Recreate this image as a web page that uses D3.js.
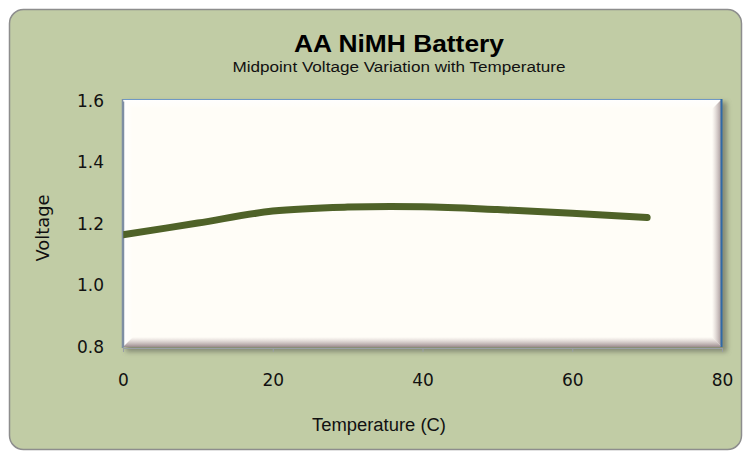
<!DOCTYPE html>
<html>
<head>
<meta charset="utf-8">
<script src="https://cdn.jsdelivr.net/npm/d3@7"></script>
<style>
  body { margin: 0; background: #fff; }
  svg { display: block; }
</style>
</head>
<body>
<svg id="chart"></svg>
<script>
var width = 746,
height = 453;

// data
var temps = [0, 10, 20, 30, 40, 50, 60, 70];
var volts = [1.165, 1.203, 1.242, 1.255, 1.256, 1.247, 1.235, 1.221];
var xTicks = [0, 20, 40, 60, 80];
var yTicks = [0.8, 1.0, 1.2, 1.4, 1.6];

var chartTitle = "AA NiMH Battery";
var chartSubtitle = "Midpoint Voltage Variation with Temperature";
var xTitle = "Temperature (C)";
var yTitle = "Voltage";

var plot = {left: 123, right: 722, top: 99, bottom: 347};

var svg = d3.select("svg#chart")
  .attr("width", width)
  .attr("height", height);

var defs = svg.append("defs");

var blur = defs.append("filter").attr("id", "shadow")
  .attr("x", "-10%").attr("y", "-10%").attr("width", "120%").attr("height", "120%");
blur.append("feGaussianBlur").attr("stdDeviation", 2.5);

// bevel gradients
function grad(id, x2, y2, stops) {
  var g = defs.append("linearGradient").attr("id", id)
    .attr("x1", 0).attr("y1", 0).attr("x2", x2).attr("y2", y2);
  stops.forEach(function(s) {
    g.append("stop").attr("offset", s[0]).attr("stop-color", s[1]).attr("stop-opacity", s[2]);
  });
}
grad("bevelRight", 1, 0, [[0, "#c4b4b4", 0], [1, "#9a8a8c", 1]]);
grad("bevelBottom", 0, 1, [[0, "#c4b4b4", 0], [1, "#9a8a8c", 1]]);
grad("bevelTop", 0, 1, [[0, "#ffffff", 1], [1, "#ffffff", 0]]);
grad("bevelLeft", 1, 0, [[0, "#ffffff", 1], [1, "#ffffff", 0]]);

// outer chart area
svg.append("rect")
  .attr("x", 9.5).attr("y", 9.5)
  .attr("width", 732).attr("height", 440)
  .attr("rx", 14).attr("ry", 14)
  .attr("fill", "#c1cca5")
  .attr("stroke", "#8d8d8d")
  .attr("stroke-width", 1.5);

var pw = plot.right - plot.left,
ph = plot.bottom - plot.top;
var b = 10; // bevel size

// plot area shadow
svg.append("rect")
  .attr("x", plot.left + 3).attr("y", plot.top + 3)
  .attr("width", pw + 2).attr("height", ph + 2)
  .attr("fill", "#6d7160").attr("opacity", 0.7)
  .attr("filter", "url(#shadow)");

var pg = svg.append("g").attr("transform", translate(plot.left, plot.top));

pg.append("rect")
  .attr("width", pw).attr("height", ph)
  .attr("fill", "#fffdf7");

pg.append("polygon")
  .attr("points", [[0, 0], [pw, 0], [pw - b, b], [b, b]].join(" "))
  .attr("fill", "url(#bevelTop)");
pg.append("polygon")
  .attr("points", [[0, 0], [b, b], [b, ph - b], [0, ph]].join(" "))
  .attr("fill", "url(#bevelLeft)");
pg.append("polygon")
  .attr("points", [[pw, 0], [pw, ph], [pw - b, ph - b], [pw - b, b]].join(" "))
  .attr("fill", "url(#bevelRight)");
pg.append("polygon")
  .attr("points", [[0, ph], [b, ph - b], [pw - b, ph - b], [pw, ph]].join(" "))
  .attr("fill", "url(#bevelBottom)");

// plot border: blue on top and right
pg.append("line").attr("x1", 0).attr("y1", 0.5).attr("x2", pw).attr("y2", 0.5)
  .attr("stroke", "#6f98c4").attr("stroke-width", 1);
pg.append("line").attr("x1", pw - 0.5).attr("y1", 0).attr("x2", pw - 0.5).attr("y2", ph)
  .attr("stroke", "#2f6aa8").attr("stroke-width", 2);

var x = d3.scaleLinear().domain([0, 80]).range([plot.left, plot.right]);
var y = d3.scaleLinear().domain([0.8, 1.6]).range([plot.bottom, plot.top + 2]);

// axes
var xAxis = d3.axisBottom(x).tickValues(xTicks).tickSize(4).tickFormat(d3.format("d"));
var yAxis = d3.axisLeft(y).tickValues(yTicks).tickSize(0).tickFormat(d3.format(".1f"));

var gx = svg.append("g").attr("transform", translate(0, plot.bottom + 1)).call(xAxis);
gx.select(".domain").attr("stroke", "#9aa0a6");
gx.selectAll(".tick line").attr("stroke", "#9aa0a6");
gx.selectAll(".tick text")
  .attr("y", 32)
  .attr("dy", "0.35em")
  .style("font-family", "DejaVu Sans, Verdana, sans-serif")
  .style("font-size", "17px")
  .attr("fill", "#111");

var gy = svg.append("g").attr("transform", translate(plot.left, 0)).call(yAxis);
gy.select(".domain").attr("stroke", "#7f8fa3").attr("stroke-width", 1.5);
gy.selectAll(".tick text")
  .attr("x", -19)
  .style("font-family", "DejaVu Sans, Verdana, sans-serif")
  .style("font-size", "17px")
  .attr("fill", "#111");

// data line
var line = d3.line()
  .x(function(d, i) { return x(temps[i]); })
  .y(function(d) { return y(d); })
  .curve(d3.curveCatmullRom.alpha(0.5));

svg.append("path")
  .datum(volts)
  .attr("d", line)
  .attr("fill", "none")
  .attr("stroke", "#4f6228")
  .attr("stroke-width", 7)
  .attr("stroke-linecap", "round")
  .attr("stroke-linejoin", "round");

// mask the line start against the axis edge
svg.append("rect")
  .attr("x", plot.left - 8).attr("y", plot.top)
  .attr("width", 7.2).attr("height", ph)
  .attr("fill", "#c1cca5");
svg.append("line")
  .attr("x1", plot.left - 0.5).attr("y1", plot.top).attr("x2", plot.left - 0.5).attr("y2", plot.bottom + 1)
  .attr("stroke", "#7f8fa3").attr("stroke-width", 1.5);

// titles
svg.append("text")
  .attr("x", 399).attr("y", 52)
  .attr("text-anchor", "middle")
  .attr("textLength", 210)
  .attr("lengthAdjust", "spacingAndGlyphs")
  .style("font-family", "Liberation Sans, Arial, sans-serif")
  .style("font-weight", "bold")
  .style("font-size", "23px")
  .attr("fill", "#000")
  .text(chartTitle);

svg.append("text")
  .attr("x", 399).attr("y", 72)
  .attr("text-anchor", "middle")
  .attr("textLength", 333)
  .attr("lengthAdjust", "spacingAndGlyphs")
  .style("font-family", "Liberation Sans Narrow, Liberation Sans, Arial, sans-serif")
  .style("font-size", "14px")
  .attr("fill", "#111")
  .text(chartSubtitle);

svg.append("text")
  .attr("x", 379).attr("y", 431)
  .attr("text-anchor", "middle")
  .attr("textLength", 134)
  .attr("lengthAdjust", "spacingAndGlyphs")
  .style("font-family", "Liberation Sans Narrow, Liberation Sans, Arial, sans-serif")
  .style("font-size", "18px")
  .attr("fill", "#111")
  .text(xTitle);

svg.append("text")
  .attr("transform", translate(49, 228) + " rotate(-90)")
  .attr("text-anchor", "middle")
  .attr("textLength", 67)
  .attr("lengthAdjust", "spacingAndGlyphs")
  .style("font-family", "DejaVu Sans, Verdana, sans-serif")
  .style("font-size", "17px")
  .attr("fill", "#111")
  .text(yTitle);

/*
* returns a translate string for the transform attribute
*/
function translate(x, y) {
  return 'translate(' + String(x) + ',' + String(y) + ')';
}
</script>
</body>
</html>
